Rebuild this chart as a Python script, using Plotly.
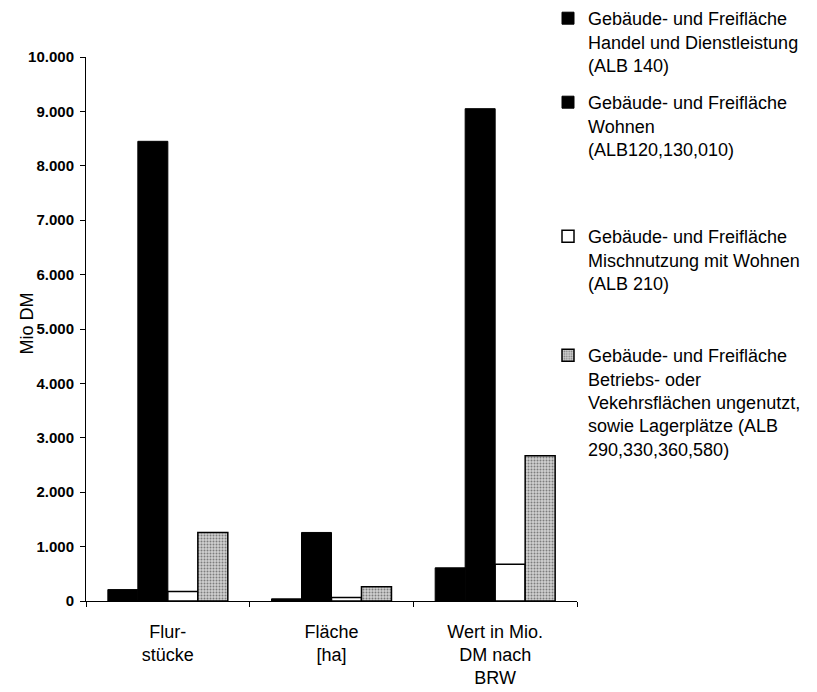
import plotly.graph_objects as go

# Kategorien der x-Achse
categories = ["Flur-<br>stücke", "Fläche<br>[ha]", "Wert in Mio.<br>DM nach<br>BRW"]

# Werte je Nutzungsart
handel = [210, 40, 610]
wohnen = [8450, 1260, 9050]
misch = [175, 65, 675]
betrieb = [1260, 260, 2670]

series_names = [
    "Gebäude- und Freifläche<br>Handel und Dienstleistung<br>(ALB 140)",
    "Gebäude- und Freifläche<br>Wohnen<br>(ALB120,130,010)",
    "Gebäude- und Freifläche<br>Mischnutzung mit Wohnen<br>(ALB 210)",
    "Gebäude- und Freifläche<br>Betriebs- oder<br>Vekehrsflächen ungenutzt,<br>sowie Lagerplätze (ALB<br>290,330,360,580)",
]

y_ticks = list(range(0, 10001, 1000))
y_title = "Mio DM"

FONT = "Liberation Sans, Arial, sans-serif"

fig = go.Figure()

styles = [
    dict(color="black", line=dict(color="black", width=1)),
    dict(color="black", line=dict(color="black", width=1)),
    dict(color="white", line=dict(color="black", width=1.5)),
    dict(color="#bdbdbd", line=dict(color="black", width=1.5),
         pattern=dict(shape=".", fgcolor="#2a2a2a", bgcolor="#d0d0d0",
                      size=3, solidity=0.35)),
]

values = [handel, wohnen, misch, betrieb]
legend_ids = ["legend", "legend2", "legend3", "legend4"]
legend_tops = [-2, 84, 218, 337]

for name, vals, st, lg in zip(series_names, values, styles, legend_ids):
    fig.add_trace(go.Bar(x=categories, y=vals, name=name, marker=st,
                         legend=lg, showlegend=True))

W, H = 817, 692
L, R, T, B = 86, 240, 57, 91
layout_legends = {}
for lg, top in zip(legend_ids, legend_tops):
    layout_legends[lg] = dict(
        x=548 / W, xref="container", xanchor="left",
        y=1 - top / H, yref="container", yanchor="top",
        valign="top", bgcolor="rgba(0,0,0,0)",
        font=dict(family=FONT, size=18, color="black"),
        itemclick=False, itemdoubleclick=False,
    )

fig.update_layout(
    width=W, height=H,
    margin=dict(l=L, r=R, t=T, b=B, autoexpand=False),
    paper_bgcolor="white", plot_bgcolor="white",
    showlegend=True,
    separators=",.",
    barmode="group", bargap=0.267, bargroupgap=0,
    font=dict(family=FONT, color="black"),
    **layout_legends,
)

# y-axis title as a rotated annotation left of the tick labels
fig.add_annotation(
    text=y_title, textangle=-90, showarrow=False,
    xref="paper", x=(27 - L) / (W - L - R), xanchor="center",
    yref="paper", y=0.51, yanchor="middle",
    font=dict(family=FONT, size=18, color="black"),
)

fig.update_yaxes(
    range=[0, 10000], tickvals=y_ticks, tickformat=",d",
    showline=True, linecolor="black", linewidth=1,
    ticks="outside", ticklen=5, tickcolor="black",
    showgrid=False, zeroline=False, ticklabelstandoff=3,
    tickfont=dict(family=FONT, size=15, color="black", weight="bold"),
)

fig.update_xaxes(
    showline=True, linecolor="black", linewidth=1,
    ticks="outside", ticklen=5, tickcolor="black", tickson="boundaries",
    showgrid=False, ticklabelstandoff=14,
    tickfont=dict(family=FONT, size=18, color="black"),
)

fig.write_html("out.html")
